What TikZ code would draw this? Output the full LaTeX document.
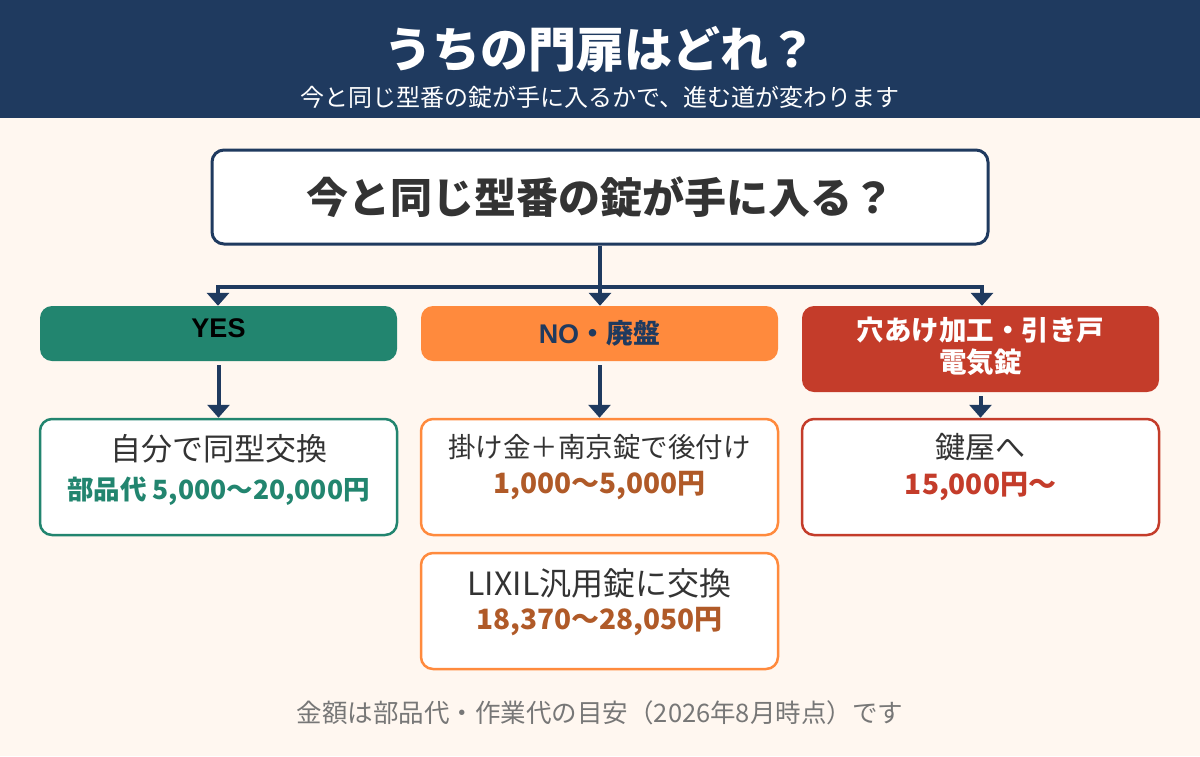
\documentclass[tikz,border=0pt]{standalone}
\usepackage{fontspec}
\setmainfont{Noto Sans CJK JP}
\newfontfamily\latinf{Liberation Sans}
\usetikzlibrary{arrows.meta}
\definecolor{navy}{HTML}{1F3A5F}
\definecolor{teal2}{HTML}{22856F}
\definecolor{orng}{HTML}{FF8A3D}
\definecolor{redc}{HTML}{C43C2A}
\definecolor{brownc}{HTML}{B05A28}
\definecolor{cream}{HTML}{FFF7F0}
\definecolor{darktx}{HTML}{333333}
\definecolor{graytx}{HTML}{777777}
\newcommand{\fs}[1]{\fontsize{#1}{#1}\selectfont}
\tikzset{
  box/.style={rounded corners=12pt, minimum width=357pt, inner sep=0pt},
  branch/.style={box, minimum height=55pt},
  result/.style={box, fill=white, line width=2.5pt, minimum height=116pt},
  conn/.style={draw=navy, line width=4pt},
  arr/.style={conn, -{Triangle[width=22pt,length=13pt]}},
  txt/.style={inner sep=0pt, anchor=center, text=darktx},
}
\begin{document}
\begin{tikzpicture}[x=1pt,y=-1pt]
\fill[cream] (0,0) rectangle (1200,756);
\useasboundingbox (0,0) rectangle (1200,756);
\fill[navy] (0,0) rectangle (1200,118);
\node[txt, text=white] (title) at (600,50) {\fs{48}\bfseries うちの門扉はどれ？};
\node[txt, text=white] (sub) at (600,97) {\fs{24}今と同じ型番の錠が手に入るかで、進む道が変わります};

\node[box, draw=navy, line width=3pt, fill=white, minimum width=776pt, minimum height=94pt] (q) at (600,197) {};
\node[txt] (qt) at (600,197) {\fs{42}\bfseries 今と同じ型番の錠が手に入る？};

\node[branch, fill=teal2] (yes) at (218.5,333.5) {};
\node[txt, text=black] (yest) at (218.5,328) {\fs{27}\latinf\bfseries YES};
\node[branch, fill=orng] (no) at (599.5,333.5) {};
\node[txt, text=navy] (not) at (599.5,333) {\fs{27}\bfseries{\latinf NO}・廃盤};
\node[box, fill=redc, minimum height=86pt] (ot) at (980.5,349) {};
\node[txt, text=white] (ott1) at (980.5,330) {\fs{27.5}\bfseries 穴あけ加工・引き戸};
\node[txt, text=white] (ott2) at (980.5,362) {\fs{27.5}\bfseries 電気錠};

\coordinate (j) at (600,287);
\coordinate (jl) at (218,287);
\coordinate (jr) at (982,287);
\draw[conn] (q.south) -- (j);
\draw[conn, line cap=rect] (jl) -- (jr);
\draw[arr] (jl) -- (yes.north -| jl);
\draw[arr] (j) -- (no.north -| j);
\draw[arr] (jr) -- (ot.north -| jr);

\node[result, draw=teal2] (r1) at (218.5,477) {};
\node[txt] (r1a) at (218.5,449) {\fs{31}自分で同型交換};
\node[txt, text=teal2] (r1b) at (218.5,491) {\fs{26.5}\bfseries 部品代 5,000〜20,000円};

\node[result, draw=orng] (r2) at (599.5,477) {};
\node[txt] (r2a) at (599.5,447) {\fs{27.5}掛け金＋南京錠で後付け};
\node[txt, text=brownc] (r2b) at (599.5,486) {\fs{28}\bfseries 1,000〜5,000円};

\node[result, draw=orng] (r3) at (599.5,611) {};
\node[txt] (r3a) at (599.5,583) {\fs{32}LIXIL汎用錠に交換};
\node[txt, text=brownc] (r3b) at (599.5,622) {\fs{28}\bfseries 18,370〜28,050円};

\node[result, draw=redc] (r4) at (980.5,477) {};
\node[txt] (r4a) at (980.5,447) {\fs{30}鍵屋へ};
\node[txt, text=redc] (r4b) at (980.5,487) {\fs{28}\bfseries 15,000円〜};

\draw[arr] (yes.south) ++(0,4) coordinate (ys) -- (r1.north);
\draw[arr] (no.south) ++(0,4) coordinate (ns) -- (r2.north);
\draw[arr] (ot.south) ++(0,4) coordinate (os) -- (r4.north);

\node[txt, text=graytx] (foot) at (600,713) {\fs{25.5}金額は部品代・作業代の目安（2026年8月時点）です};
\end{tikzpicture}
\end{document}
